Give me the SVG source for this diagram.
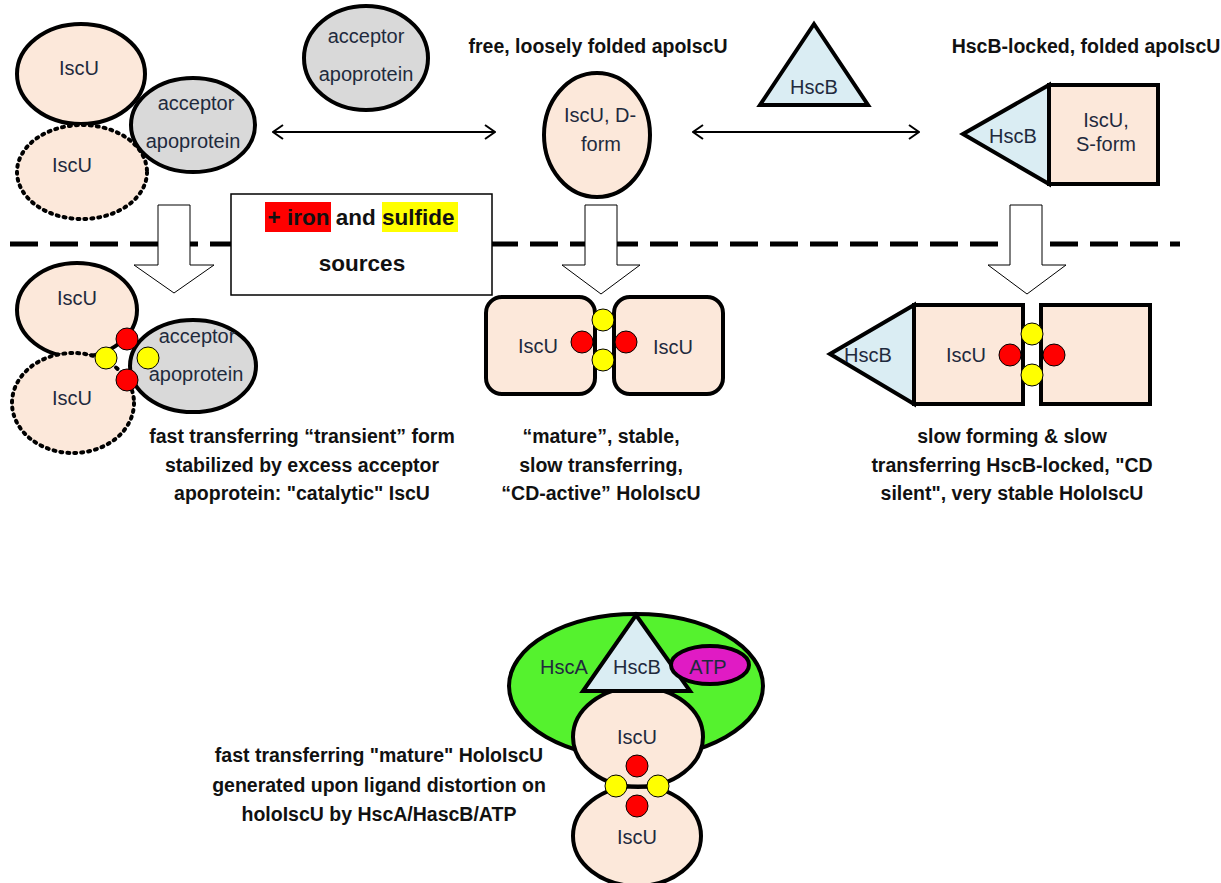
<svg xmlns="http://www.w3.org/2000/svg" width="1221" height="883" viewBox="0 0 1221 883">
<defs>
<style>
.lbl{font-family:"Liberation Sans",Arial,sans-serif;font-size:20px;fill:#1f2a3d;text-anchor:middle}
.cap{font-family:"Liberation Sans",Arial,sans-serif;font-size:19.5px;font-weight:bold;fill:#111;text-anchor:middle}
.peach{fill:#fce8da;stroke:#000;stroke-width:4}
.grey{fill:#d9d9d9;stroke:#000;stroke-width:4}
.blue{fill:#daedf3;stroke:#000;stroke-width:4;stroke-linejoin:miter}
.dot{fill:#fce8da;stroke:#000;stroke-width:4;stroke-dasharray:2 5;stroke-linecap:round}
.red{fill:#ff0000;stroke:#000;stroke-width:1}
.yel{fill:#ffff00;stroke:#000;stroke-width:1}
.hollow{fill:#fff;stroke:#000;stroke-width:1}
.conn{stroke:#000;stroke-width:2;fill:none;marker-start:url(#ah);marker-end:url(#ah)}
</style>
<marker id="ah" viewBox="0 0 12 16" refX="11" refY="8" markerWidth="12" markerHeight="16" markerUnits="userSpaceOnUse" orient="auto-start-reverse">
<path d="M1,1 L11,8 L1,15" fill="none" stroke="#000" stroke-width="2"/>
</marker>
</defs>
<rect width="1221" height="883" fill="#fff"/>

<g id="connectors">
<line class="conn" x1="273" y1="132" x2="495" y2="132"/>
<line class="conn" x1="693" y1="132" x2="919" y2="132"/>
<line x1="10" y1="244" x2="1180" y2="244" stroke="#000" stroke-width="5" stroke-dasharray="28 12"/>
<path class="hollow" d="M158,205 H190 V265 H214 L174,293 L134,265 H158 Z"/>
<path class="hollow" d="M585,205 H617 V265 H640 L601,294 L562,265 H585 Z"/>
<path class="hollow" d="M1010,205 H1042 V265 H1066 L1027,294 L988,265 H1010 Z"/>
</g>

<g id="top-complex">
<ellipse class="peach" cx="81" cy="74" rx="64" ry="50"/>
<ellipse class="dot" cx="82" cy="172" rx="65" ry="47"/>
<ellipse class="grey" cx="193" cy="125" rx="62" ry="47"/>
<text class="lbl" x="79" y="75">IscU</text>
<text class="lbl" x="72" y="172">IscU</text>
<text class="lbl" x="196" y="110">acceptor</text>
<text class="lbl" x="193" y="148">apoprotein</text>
</g>

<g id="top-acceptor">
<ellipse class="grey" cx="366" cy="58" rx="62" ry="52"/>
<text class="lbl" x="366" y="43">acceptor</text>
<text class="lbl" x="366" y="81">apoprotein</text>
</g>

<g id="free-apoIscU">
<text class="cap" x="598" y="53">free, loosely folded apoIscU</text>
<ellipse class="peach" cx="597" cy="135" rx="53" ry="62"/>
<text class="lbl" x="600" y="122">IscU, D-</text>
<text class="lbl" x="601" y="151">form</text>
</g>

<g id="hscB-top">
<polygon class="blue" points="814,24 868,105 760,105"/>
<text class="lbl" x="814" y="94">HscB</text>
</g>

<g id="hscB-locked-apo">
<text class="cap" x="1086" y="53">HscB-locked, folded apoIscU</text>
<polygon class="blue" points="963,134 1049,85 1049,184"/>
<rect class="peach" x="1049" y="85" width="109" height="99"/>
<text class="lbl" x="1013" y="143">HscB</text>
<text class="lbl" x="1106" y="127">IscU,</text>
<text class="lbl" x="1106" y="151">S-form</text>
</g>

<g id="sources-box">
<rect x="231" y="194" width="261" height="101" fill="#fff" stroke="#000" stroke-width="1.5"/>
<rect x="265" y="202" width="66" height="30" fill="#ff0000"/>
<rect x="382" y="202" width="76" height="30" fill="#ffff00"/>
<text class="cap" x="361" y="225" style="font-size:22.5px">+ iron and sulfide</text>
<text class="cap" x="362" y="271" style="font-size:22.5px">sources</text>
</g>

<g id="transient-holo">
<ellipse class="peach" cx="77" cy="310" rx="60" ry="47"/>
<ellipse class="dot" cx="73" cy="403" rx="61" ry="50"/>
<ellipse class="grey" cx="193" cy="366" rx="63" ry="46"/>
<circle class="red" cx="127" cy="339" r="11"/>
<circle class="red" cx="127" cy="380" r="11"/>
<circle class="yel" cx="106" cy="358" r="11"/>
<circle class="yel" cx="148" cy="358" r="11"/>
<text class="lbl" x="77" y="305">IscU</text>
<text class="lbl" x="72" y="405">IscU</text>
<text class="lbl" x="197" y="343">acceptor</text>
<text class="lbl" x="196" y="381">apoprotein</text>
<text class="cap" x="302" y="443">fast transferring  “transient” form</text>
<text class="cap" x="302" y="472">stabilized by excess acceptor</text>
<text class="cap" x="302" y="500">apoprotein: "catalytic" IscU</text>
</g>

<g id="mature-holo">
<rect class="peach" x="486" y="297" width="109" height="97" rx="16"/>
<rect class="peach" x="614" y="297" width="109" height="97" rx="16"/>
<circle class="red" cx="582" cy="342" r="11"/>
<circle class="red" cx="626" cy="342" r="11"/>
<circle class="yel" cx="603" cy="320" r="11"/>
<circle class="yel" cx="603" cy="360" r="11"/>
<text class="lbl" x="538" y="353">IscU</text>
<text class="lbl" x="673" y="354">IscU</text>
<text class="cap" x="601" y="443">“mature”, stable,</text>
<text class="cap" x="601" y="472">slow transferring,</text>
<text class="cap" x="601" y="500">“CD-active” HoloIscU</text>
</g>

<g id="hscB-locked-holo">
<polygon class="blue" points="830,354 914,305 914,404"/>
<rect class="peach" x="914" y="305" width="109" height="99"/>
<rect class="peach" x="1041" y="305" width="109" height="99"/>
<circle class="red" cx="1010" cy="355" r="11"/>
<circle class="red" cx="1054" cy="355" r="11"/>
<circle class="yel" cx="1032" cy="334" r="11"/>
<circle class="yel" cx="1032" cy="375" r="11"/>
<text class="lbl" x="868" y="362">HscB</text>
<text class="lbl" x="966" y="362">IscU</text>
<text class="cap" x="1012" y="443">slow forming &amp; slow</text>
<text class="cap" x="1012" y="472">transferring HscB-locked, "CD</text>
<text class="cap" x="1012" y="500">silent", very stable HoloIscU</text>
</g>

<g id="hscA-complex">
<ellipse cx="636" cy="686" rx="127" ry="72" fill="#55f22e" stroke="#000" stroke-width="4"/>
<ellipse class="peach" cx="637" cy="836" rx="64" ry="50"/>
<ellipse class="peach" cx="638" cy="737" rx="65" ry="50"/>
<polygon class="blue" points="636,615 690,691 583,691"/>
<ellipse cx="710" cy="665" rx="39" ry="19" fill="#e01bc4" stroke="#000" stroke-width="4"/>
<line x1="616" y1="786" x2="658" y2="786" stroke="#000" stroke-width="3"/>
<circle class="red" cx="637" cy="766" r="11"/>
<circle class="red" cx="637" cy="806" r="11"/>
<circle class="yel" cx="616" cy="786" r="11"/>
<circle class="yel" cx="658" cy="786" r="11"/>
<text class="lbl" x="564" y="674">HscA</text>
<text class="lbl" x="637" y="674">HscB</text>
<text class="lbl" x="708" y="674">ATP</text>
<text class="lbl" x="637" y="744">IscU</text>
<text class="lbl" x="637" y="844">IscU</text>
<text class="cap" x="379" y="762">fast transferring "mature" HoloIscU</text>
<text class="cap" x="379" y="792">generated upon ligand distortion on</text>
<text class="cap" x="379" y="821">holoIscU by HscA/HascB/ATP</text>
</g>
</svg>
